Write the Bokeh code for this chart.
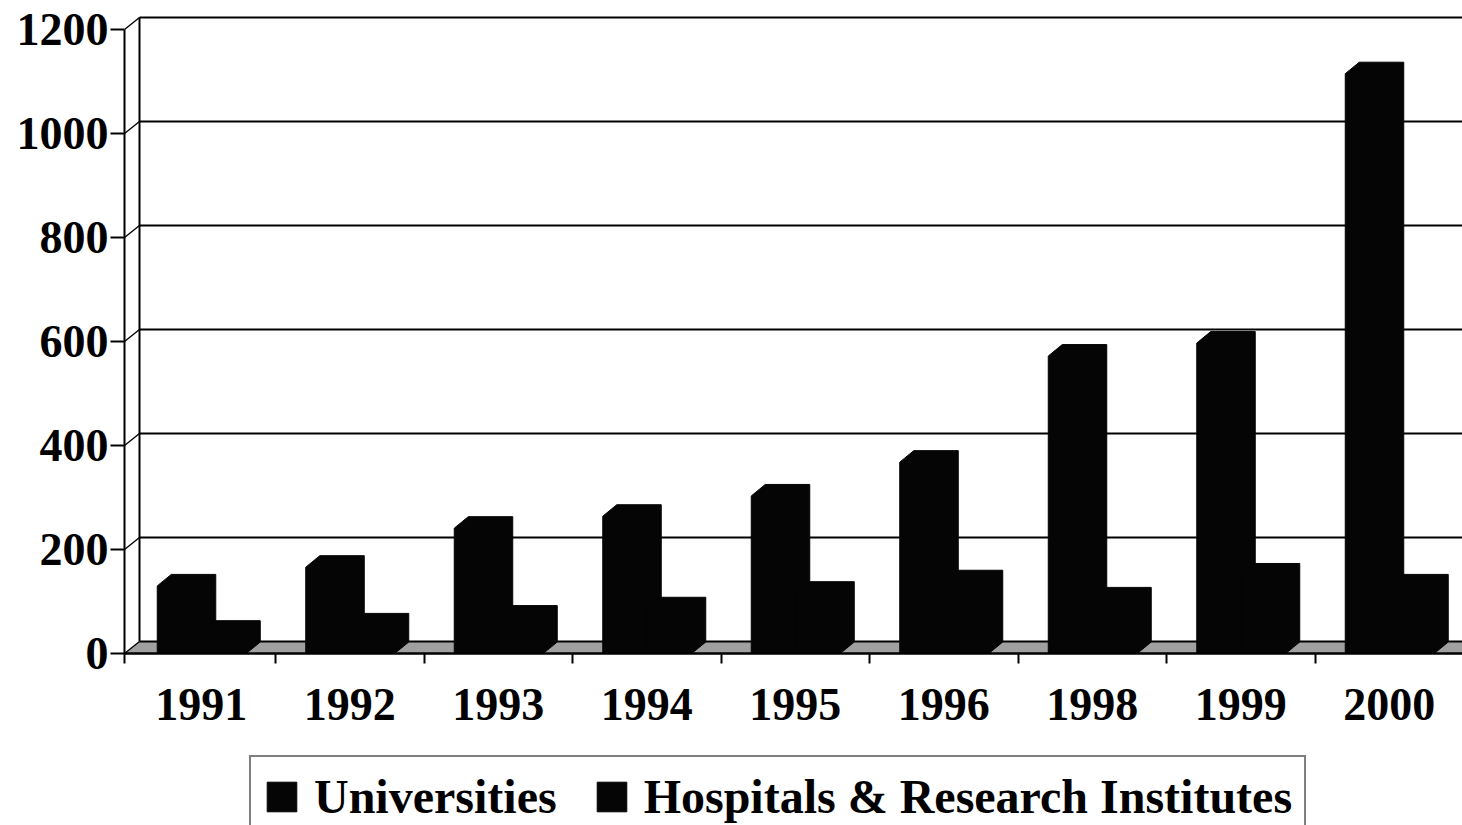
from bokeh.plotting import figure
from bokeh.models import Range1d, LinearAxis, FixedTicker, Legend, LegendItem
from bokeh.embed import file_html
from bokeh.resources import INLINE

# ---------------- data ----------------
years = ["1991", "1992", "1993", "1994", "1995", "1996", "1998", "1999", "2000"]
universities = [130, 166, 241, 264, 303, 368, 572, 597, 1115]
hospitals = [41, 55, 70, 86, 116, 138, 105, 151, 130]
y_ticks = [0, 200, 400, 600, 800, 1000, 1200]
series_names = ["Universities", "Hospitals & Research Institutes"]

# ---------------- geometry / style ----------------
FIG_W, FIG_H = 1462, 825
LEFT = 124              # frame left (front value axis)
PX_X = 148.5            # pixels per category
PX_Y = 0.52             # pixels per value unit
BASE = 653              # figure-pixel row of value 0 (front floor edge)
X_MAX = (FIG_W - LEFT) / PX_X
Y_MAX = BASE / PX_Y
Y_MIN = -(FIG_H - BASE) / PX_Y
CAT0 = 2.5 / PX_X       # first category boundary

WALL_DX, WALL_DY = 15 / PX_X, 12 / PX_Y     # back wall offset
BAR_DX, BAR_DY = 14 / PX_X, 11.5 / PX_Y     # bar depth
BAR_W = 44.5 / PX_X
BAR_OFF = -44 / PX_X
FONT = "Liberation Serif"

p = figure(width=FIG_W, height=FIG_H, output_backend="svg", toolbar_location=None,
           x_range=Range1d(0, X_MAX), y_range=Range1d(Y_MIN, Y_MAX),
           x_axis_type=None, y_axis_type=None,
           min_border_left=LEFT, min_border_right=0, min_border_top=0, min_border_bottom=0)
p.outline_line_color = None
p.xgrid.visible = False
p.ygrid.visible = False
p.background_fill_color = "white"
p.border_fill_color = "white"

# floor
p.patch([0, X_MAX + 1, X_MAX + 1, WALL_DX], [0, 0, WALL_DY, WALL_DY],
        fill_color="#a0a0a0", line_color=None)
# back wall gridlines (including back floor edge)
p.segment(x0=[WALL_DX] * len(y_ticks), y0=[v + WALL_DY for v in y_ticks],
          x1=[X_MAX + 1] * len(y_ticks), y1=[v + WALL_DY for v in y_ticks],
          line_color="black", line_width=2)
# side connectors from front axis to back wall
p.segment(x0=[0] * len(y_ticks), y0=y_ticks,
          x1=[WALL_DX] * len(y_ticks), y1=[v + WALL_DY for v in y_ticks],
          line_color="black", line_width=1.5)
# back wall left edge
p.segment(x0=[WALL_DX], y0=[WALL_DY], x1=[WALL_DX], y1=[max(y_ticks) + WALL_DY],
          line_color="black", line_width=2)


def bar_shapes(values, shift):
    xs, ys = [], []
    for i, v in enumerate(values):
        x0 = CAT0 + i + 0.5 + BAR_OFF + shift * BAR_W
        x1 = x0 + BAR_W
        xs.append([x0, x0, x0 + BAR_DX, x1 + BAR_DX, x1 + BAR_DX, x1])
        ys.append([0, v, v + BAR_DY, v + BAR_DY, BAR_DY, 0])
    return xs, ys


ux, uy = bar_shapes(universities, 0)
hx, hy = bar_shapes(hospitals, 1)
r_u = p.patches(xs=ux, ys=uy, fill_color="#050505", line_color="#050505", line_width=1)
r_h = p.patches(xs=hx, ys=hy, fill_color="#050505", line_color="#050505", line_width=1)

# front value axis
yax = LinearAxis(ticker=FixedTicker(ticks=y_ticks), bounds=(-19, max(y_ticks)))
yax.axis_line_width = 2
yax.major_tick_out = 14
yax.major_tick_in = 0
yax.minor_tick_out = 0
yax.major_tick_line_width = 2
yax.major_label_standoff = 2
yax.major_label_text_font = FONT
yax.major_label_text_font_style = "bold"
yax.major_label_text_font_size = "46px"
yax.major_label_text_color = "black"
p.add_layout(yax, "left")

# category axis along the front floor edge
centers = [CAT0 + i + 0.5 for i in range(len(years))]
bounds_t = [CAT0 + i for i in range(1, len(years) + 1)]
xax = LinearAxis(fixed_location=0,
                 ticker=FixedTicker(ticks=centers, minor_ticks=bounds_t),
                 major_label_overrides={c: y for c, y in zip(centers, years)})
xax.axis_line_width = 2.5
xax.major_tick_out = 0
xax.major_tick_in = 0
xax.minor_tick_out = 10
xax.minor_tick_in = 0
xax.minor_tick_line_width = 2
xax.major_label_standoff = 25
xax.major_label_text_font = FONT
xax.major_label_text_font_style = "bold"
xax.major_label_text_font_size = "46px"
xax.major_label_text_color = "black"
p.add_layout(xax, "below")

legend = Legend(items=[LegendItem(label=series_names[0], renderers=[r_u]),
                       LegendItem(label=series_names[1], renderers=[r_h])],
                orientation="horizontal", location=(125, -13))
legend.label_text_font = FONT
legend.label_text_font_style = "bold"
legend.label_text_font_size = "48px"
legend.label_text_color = "black"
legend.glyph_width = 37
legend.glyph_height = 37
legend.label_standoff = 14
legend.spacing = 36
legend.padding = 12
legend.margin = 0
legend.border_line_color = "black"
legend.border_line_width = 2
legend.background_fill_color = "white"
legend.background_fill_alpha = 1
p.add_layout(legend, "center")

open("out.html", "w").write(file_html(p, INLINE))
